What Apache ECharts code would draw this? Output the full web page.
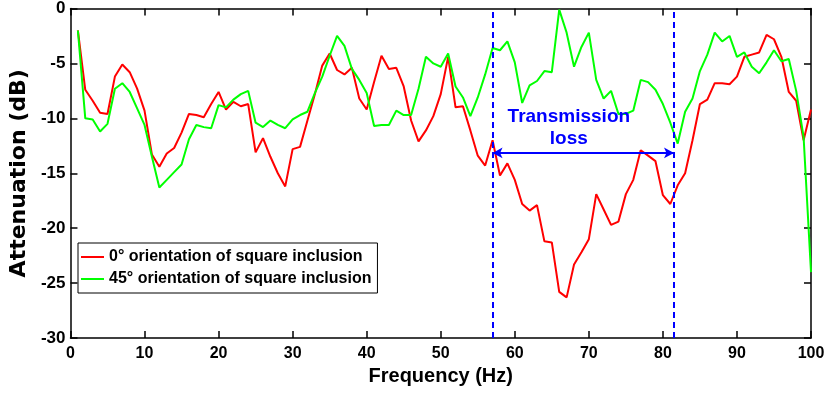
<!DOCTYPE html>
<html>
<head>
<meta charset="utf-8">
<script src="https://cdn.jsdelivr.net/npm/echarts@6/dist/echarts.min.js"></script>
<style>
  html, body { margin: 0; padding: 0; background: #fff; }
  #chart { width: 829px; height: 393px; }
</style>
</head>
<body>
<div id="chart"></div>
<script>
// frequency points (Hz)
const freq = [1, 2, 3, 4, 5, 6, 7, 8, 9, 10, 11, 12, 13, 14, 15, 16, 17, 18, 19, 20,
  21, 22, 23, 24, 25, 26, 27, 28, 29, 30, 31, 32, 33, 34, 35, 36, 37, 38, 39, 40,
  41, 42, 43, 44, 45, 46, 47, 48, 49, 50, 51, 52, 53, 54, 55, 56, 57, 58, 59, 60,
  61, 62, 63, 64, 65, 66, 67, 68, 69, 70, 71, 72, 73, 74, 75, 76, 77, 78, 79, 80,
  81, 82, 83, 84, 85, 86, 87, 88, 89, 90, 91, 92, 93, 94, 95, 96, 97, 98, 99, 100]

// 0 deg orientation (dB)
const att0 = [-2.0, -7.4, -8.4, -9.5, -9.6, -6.2, -5.1, -5.8, -7.3, -9.3,
  -13.3, -14.4, -13.2, -12.7, -11.3, -9.6, -9.7, -9.9, -8.7, -7.6,
  -9.2, -8.5, -8.9, -8.7, -13.1, -11.8, -13.5, -15.0, -16.2, -12.8,
  -12.6, -10.2, -7.8, -5.2, -4.1, -5.6, -6.0, -5.4, -8.2, -9.2,
  -6.7, -4.3, -5.5, -5.4, -7.1, -10.2, -12.1, -11.1, -9.8, -7.8,
  -4.4, -9.0, -8.9, -11.1, -13.4, -14.3, -12.0, -15.2, -14.1, -15.6,
  -17.8, -18.4, -17.9, -21.2, -21.3, -25.8, -26.3, -23.3, -22.2, -21.0,
  -16.9, -18.3, -19.7, -19.4, -16.9, -15.6, -12.9, -13.4, -13.9, -17.0,
  -17.8, -16.1, -15.0, -12.0, -8.7, -8.3, -6.8, -6.8, -6.9, -6.2,
  -4.4, -4.2, -4.0, -2.4, -2.8, -4.4, -7.6, -8.4, -12.0, -9.2]

// 45 deg orientation (dB)
const att45 = [-2.0, -10.0, -10.1, -11.2, -10.5, -7.3, -6.8, -7.6, -9.1, -10.6,
  -13.5, -16.3, -15.6, -14.9, -14.2, -11.9, -10.6, -10.8, -10.9, -8.8,
  -9.0, -8.3, -7.8, -7.5, -10.4, -10.8, -10.2, -10.6, -10.9, -10.1,
  -9.7, -9.4, -7.7, -6.2, -4.3, -2.5, -3.4, -5.5, -6.5, -7.7,
  -10.7, -10.6, -10.6, -9.3, -9.7, -9.7, -7.3, -4.4, -5.0, -5.3,
  -4.1, -7.1, -8.1, -9.8, -8.1, -6.0, -3.6, -3.8, -3.0, -4.9,
  -8.6, -7.0, -6.6, -5.7, -5.8, -0.1, -2.2, -5.3, -3.5, -2.2,
  -6.5, -8.2, -7.5, -9.6, -9.6, -9.3, -6.5, -6.7, -7.4, -8.7,
  -10.4, -12.3, -9.4, -8.2, -5.7, -4.2, -2.2, -3.0, -2.5, -4.4,
  -4.0, -5.3, -5.9, -4.9, -3.8, -4.8, -4.6, -7.5, -11.7, -24.0]

const seriesNames = ['0° orientation of square inclusion', '45° orientation of square inclusion']

// transmission loss band
const bandStart = 57
const bandEnd = 81.5
const arrowLevel = -13.15
const noteAt = [67.3, -10.85]

const font = 'Liberation Sans, Arial, sans-serif'
const chart = echarts.init(document.getElementById('chart'))

function axisCommon(extra) {
  return Object.assign({
    type: 'value',
    axisLine: { show: true, onZero: false, lineStyle: { color: '#000', width: 1.5 } },
    axisTick: { show: true, inside: true, length: 7, lineStyle: { color: '#000', width: 1.5 } },
    splitLine: { show: false }
  }, extra)
}

let option = {
  animation: false,
  backgroundColor: '#fff',
  grid: { left: 58, right: 18, top: 8, bottom: 55, containLabel: false },
  legend: {
    orient: 'vertical',
    left: 78,
    top: 243,
    padding: [5, 6, 5, 3],
    itemGap: 4,
    itemWidth: 23,
    itemHeight: 2,
    icon: 'rect',
    backgroundColor: '#fff',
    borderColor: '#000',
    borderWidth: 1,
    borderRadius: 0,
    data: seriesNames,
    textStyle: { fontFamily: font, fontWeight: 'bold', fontSize: 16, color: '#000', lineHeight: 18 }
  },
  xAxis: [
    axisCommon({
      min: 0, max: 100, interval: 10, position: 'bottom',
      name: 'Frequency (Hz)', nameLocation: 'middle', nameGap: 26,
      nameTextStyle: { fontFamily: font, fontWeight: 'bold', fontSize: 20, color: '#000' },
      axisLabel: { fontFamily: font, fontWeight: 'bold', fontSize: 16, color: '#000', margin: 8 }
    }),
    axisCommon({
      min: 0, max: 100, interval: 10, position: 'top',
      axisLabel: { show: false }
    })
  ],
  yAxis: [
    axisCommon({
      min: -30, max: 0, interval: 5, position: 'left',
      name: 'Attenuation (dB)', nameLocation: 'middle', nameGap: 37,
      nameTextStyle: { fontFamily: 'DejaVu Sans, sans-serif', fontWeight: 'bold', fontSize: 22, color: '#000' },
      axisLabel: { fontFamily: font, fontWeight: 'bold', fontSize: 17, color: '#000', margin: 5 }
    }),
    axisCommon({
      min: -30, max: 0, interval: 5, position: 'right',
      axisLabel: { show: false }
    })
  ],
  series: [
    {
      name: seriesNames[0],
      type: 'line',
      xAxisIndex: 0,
      yAxisIndex: 0,
      symbol: 'none',
      data: freq.map((f, i) => [f, att0[i]]),
      lineStyle: { color: '#ff0000', width: 2 },
      itemStyle: { color: '#ff0000' },
      markLine: {
        silent: true,
        symbol: ['none', 'none'],
        label: { show: false },
        lineStyle: { color: '#0000ff', width: 2, type: [6, 4] },
        data: [{ xAxis: bandStart }, { xAxis: bandEnd }]
      }
    },
    {
      name: seriesNames[1],
      type: 'line',
      xAxisIndex: 0,
      yAxisIndex: 0,
      symbol: 'none',
      data: freq.map((f, i) => [f, att45[i]]),
      lineStyle: { color: '#00ff00', width: 2 },
      itemStyle: { color: '#00ff00' },
      markLine: {
        silent: true,
        symbol: ['arrow', 'arrow'],
        symbolSize: [8, 10],
        label: { show: false },
        lineStyle: { color: '#0000ff', width: 2, type: 'solid' },
        data: [[{ coord: [bandStart, arrowLevel] }, { coord: [bandEnd, arrowLevel] }]]
      },
      markPoint: {
        silent: true,
        symbolSize: 0,
        data: [{ coord: noteAt }],
        label: {
          show: true,
          position: 'inside',
          formatter: 'Transmission\nloss',
          align: 'center',
          fontFamily: font,
          fontWeight: 'bold',
          fontSize: 19,
          lineHeight: 22,
          color: '#0000ff'
        }
      }
    }
  ]
}

chart.setOption(option)
</script>
</body>
</html>
